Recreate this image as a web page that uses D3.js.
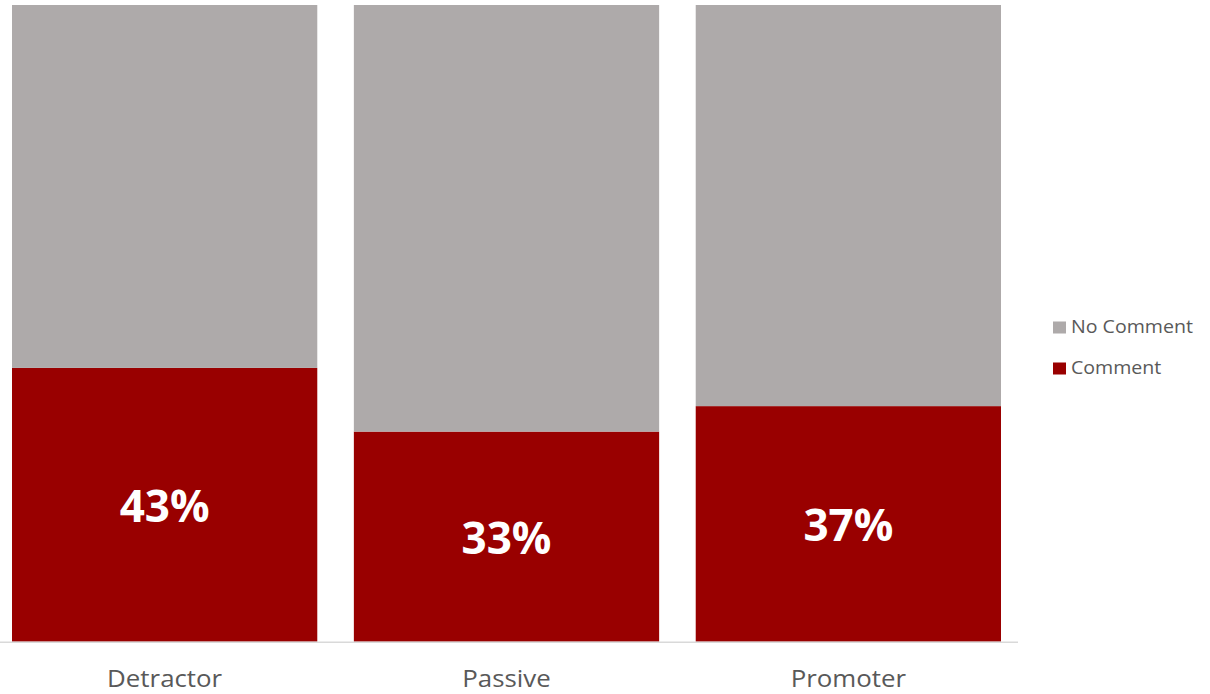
<!DOCTYPE html>
<html>
<head>
<meta charset="utf-8">
<script src="https://cdn.jsdelivr.net/npm/d3@7"></script>
<style>
  html, body { margin: 0; padding: 0; background: #fff; }
  svg { display: block; }
</style>
</head>
<body>
<svg id="chart" width="1210" height="694"></svg>
<script>
// NPS groups and share of responses that included a comment
const categories = ["Detractor", "Passive", "Promoter"];
const commentShare = [43, 33, 37];
const seriesNames = ["No Comment", "Comment"];
const seriesColors = ["#AEAAAA", "#990000"];

const svg = d3.select("#chart");
const textStretch = 1.1;

const x = d3.scaleBand()
  .domain(categories)
  .range([12, 1001])
  .paddingInner(0.107)
  .paddingOuter(0);

const y = d3.scaleLinear()
  .domain([0, 100])
  .range([641.7, 5]);

const rows = categories.map((c, i) => ({
  category: c,
  Comment: commentShare[i],
  "No Comment": 100 - commentShare[i]
}));

const stacked = d3.stack().keys(["Comment", "No Comment"])(rows);
const colorOf = d3.scaleOrdinal().domain(seriesNames).range(seriesColors);

svg.append("g")
  .selectAll("g")
  .data(stacked)
  .join("g")
  .attr("fill", d => colorOf(d.key))
  .selectAll("rect")
  .data(d => d)
  .join("rect")
  .attr("x", d => x(d.data.category))
  .attr("width", x.bandwidth())
  .attr("y", d => y(d[1]))
  .attr("height", d => y(d[0]) - y(d[1]));

// baseline
svg.append("line")
  .attr("x1", 0).attr("x2", 1018)
  .attr("y1", y(0) + 0.5).attr("y2", y(0) + 0.5)
  .attr("stroke", "#D9D9D9")
  .attr("stroke-width", 1.5);

// value labels inside the comment segment
const commentLayer = stacked[0];
svg.append("g")
  .selectAll("text")
  .data(commentLayer)
  .join("text")
  .attr("x", d => x(d.data.category) + x.bandwidth() / 2)
  .attr("y", d => (y(d[0]) + y(d[1])) / 2 + 17)
  .attr("text-anchor", "middle")
  .attr("font-family", "'Open Sans', sans-serif")
  .attr("font-weight", 700)
  .attr("font-size", 44)
  .attr("fill", "#ffffff")
  .text(d => d.data.Comment + "%");

// category axis labels
const xAxis = svg.append("g")
  .attr("transform", `translate(0,${y(0)})`)
  .call(d3.axisBottom(x).tickSize(0).tickPadding(0));
xAxis.select(".domain").remove();
xAxis.selectAll(".tick text")
  .attr("y", 0).attr("dy", 0)
  .attr("transform", `translate(0,45.6) scale(${textStretch},1)`)
  .attr("font-family", "'Open Sans', sans-serif")
  .attr("font-size", 23.5)
  .attr("fill", "#595959");

// legend
const legend = svg.append("g");
const legendItems = [
  { name: seriesNames[0], base: 333.3 },
  { name: seriesNames[1], base: 374.3 }
];
const items = legend.selectAll("g")
  .data(legendItems)
  .join("g");
items.append("rect")
  .attr("x", 1053)
  .attr("y", d => d.base - 11.8)
  .attr("width", 13)
  .attr("height", 12)
  .attr("fill", d => colorOf(d.name));
items.append("text")
  .attr("transform", d => `translate(1071,${d.base}) scale(${textStretch},1)`)
  .attr("font-family", "'Open Sans', sans-serif")
  .attr("font-size", 17.8)
  .attr("fill", "#595959")
  .text(d => d.name);
</script>
</body>
</html>
